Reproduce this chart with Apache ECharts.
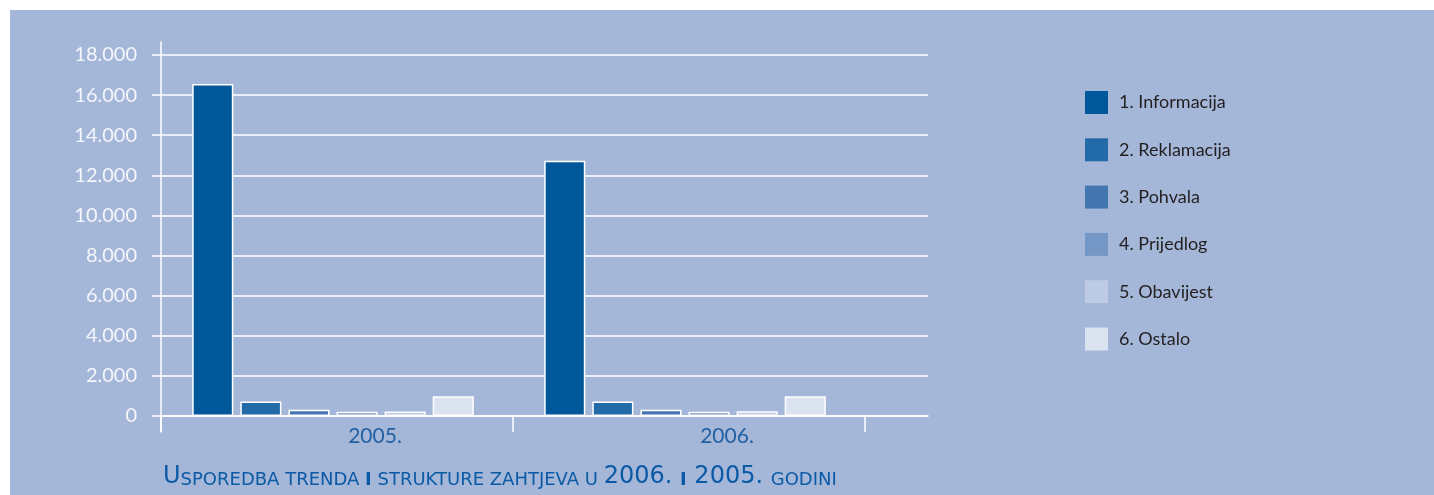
<!DOCTYPE html>
<html>
<head>
<meta charset="utf-8">
<script src="https://cdn.jsdelivr.net/npm/echarts@6/dist/echarts.min.js"></script>
<style>
  html, body { margin: 0; padding: 0; background: #ffffff; }
  #chart { position: absolute; left: 10px; top: 10px; width: 1424px; height: 485px; }
</style>
</head>
<body>
<div id="chart"></div>
<script>
const categories = ['2005.', '2006.'];
const seriesNames = ['1. Informacija', '2. Reklamacija', '3. Pohvala', '4. Prijedlog', '5. Obavijest', '6. Ostalo'];
const informacija = [16550, 12730];
const reklamacija = [720, 720];
const pohvala = [310, 310];
const prijedlog = [210, 210];
const obavijest = [230, 235];
const ostalo = [980, 980];
const yTicks = [0, 2000, 4000, 6000, 8000, 10000, 12000, 14000, 16000, 18000];

const colors = ['#00579a', '#236aa8', '#4477b0', '#7597c6', '#bdcbe5', '#dce3f0'];
const values = [informacija, reklamacija, pohvala, prijedlog, obavijest, ostalo];

const fmt = v => {
  if (v === 0) return '0';
  const s = String(v);
  return s.slice(0, s.length - 3) + '.' + s.slice(s.length - 3);
};

const titleColor = '#0b5aa6';
const chart = echarts.init(document.getElementById('chart'));
chart.setOption({
  backgroundColor: '#a4b7d8',
  animation: false,
  textStyle: { fontFamily: 'Lato' },
  title: {
    left: 153,
    top: 455,
    padding: 0,
    text: '{a|U}{b|SPOREDBA TRENDA }{c|I}{b| STRUKTURE ZAHTJEVA U }{a|2006. }{c|I}{a| 2005. }{b|GODINI}',
    textStyle: {
      fontWeight: 'normal',
      rich: {
        a: { fontSize: 24, color: titleColor, fontFamily: 'DejaVu Sans', fontWeight: 'normal', verticalAlign: 'bottom' },
        b: { fontSize: 18, color: titleColor, fontFamily: 'DejaVu Sans', fontWeight: 'normal', verticalAlign: 'bottom' },
        c: { fontSize: 18, color: titleColor, fontFamily: 'DejaVu Sans', fontWeight: 'bold', verticalAlign: 'bottom' }
      }
    }
  },
  legend: {
    orient: 'vertical',
    left: 1075,
    top: 81,
    padding: 0,
    itemWidth: 23,
    itemHeight: 23,
    itemGap: 24.3,
    icon: 'rect',
    itemStyle: { borderWidth: 0 },
    textStyle: { fontSize: 18, color: '#231f20', fontFamily: 'Lato', padding: [0, 0, 0, 6] },
    data: seriesNames
  },
  grid: [
    { left: 151, right: 506, top: 45, bottom: 79 },
    { left: 151, right: 569, top: 45, bottom: 79 },
    { left: 151, right: 1200, top: 32, bottom: 63 },
    { left: 147, right: 573, top: 45, bottom: 79 }
  ],
  xAxis: [
    {
      gridIndex: 0, type: 'value', min: 0, max: 1,
      axisLine: { show: true, lineStyle: { color: '#ffffff', width: 1.5 } },
      axisTick: { show: false }, axisLabel: { show: false }, splitLine: { show: false }
    },
    {
      gridIndex: 1, type: 'category', data: categories,
      axisLine: { show: false },
      axisTick: { show: true, length: 16, lineStyle: { color: '#ffffff', width: 1.5 } },
      axisLabel: { color: '#2461a3', fontSize: 21, margin: 10, fontFamily: 'Lato', padding: [0, 0, 0, 76] },
      splitLine: { show: false }
    },
    {
      gridIndex: 2, type: 'value', show: false
    },
    {
      gridIndex: 3, type: 'category', data: categories, show: false
    }
  ],
  yAxis: [
    {
      gridIndex: 0, type: 'value', min: 0, max: 18000, interval: 2000,
      axisLine: { show: false },
      axisTick: { show: true, length: 9, lineStyle: { color: '#ffffff', width: 1.5 } },
      splitLine: { show: true, lineStyle: { color: '#ffffff', width: 1.5 } },
      axisLabel: {
        color: '#f4f6fb', fontSize: 20, margin: 24, fontFamily: 'Lato',
        formatter: v => (yTicks.indexOf(v) >= 0 ? fmt(v) : '')
      }
    },
    {
      gridIndex: 1, type: 'value', min: 0, max: 18000, show: false
    },
    {
      gridIndex: 2, type: 'value', min: 0, max: 1,
      axisLine: { show: true, lineStyle: { color: '#ffffff', width: 1.5 } },
      axisTick: { show: false }, axisLabel: { show: false }, splitLine: { show: false }
    },
    {
      gridIndex: 3, type: 'value', min: 0, max: 18000, show: false
    }
  ],
  series: seriesNames.map((name, i) => ({
    name: name,
    type: 'bar',
    xAxisIndex: 3,
    yAxisIndex: 3,
    data: values[i],
    barCategoryGap: '20%',
    barGap: '17%',
    itemStyle: { color: colors[i], borderColor: '#ffffff', borderWidth: 1.5 }
  }))
});
</script>
</body>
</html>
